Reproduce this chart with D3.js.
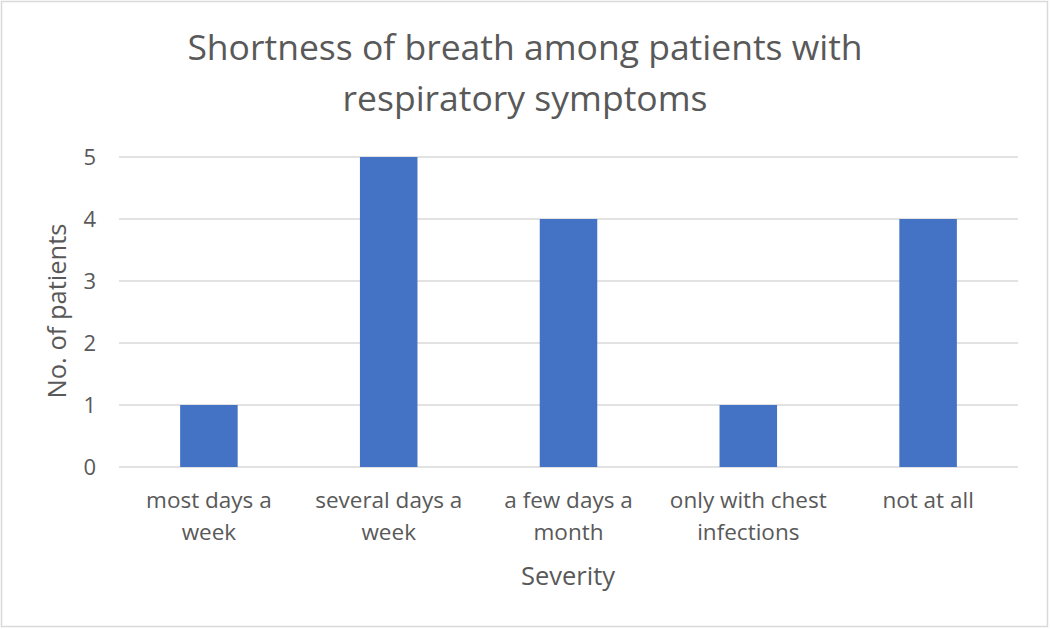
<!DOCTYPE html>
<html><head><meta charset="utf-8">
<script src="https://cdn.jsdelivr.net/npm/d3@7"></script>
<style>body{margin:0;background:#fff}svg{display:block}text{font-family:"Open Sans",sans-serif;fill:#595959}</style>
</head><body><svg id="c" width="1050" height="629"></svg>
<script>
const categories = [["most days a","week"],["several days a","week"],["a few days a","month"],["only with chest","infections"],["not at all"]];
const values = [1,5,4,1,4];
const yTicks = [0,1,2,3,4,5];
const titleLines = ["Shortness of breath among patients with","respiratory symptoms"];

(function(){
const svg = d3.select("#c");
svg.append("rect").attr("x",1.5).attr("y",1.5).attr("width",1046).attr("height",625).attr("fill","#fff").attr("stroke","#d9d9d9").attr("stroke-width",1.5);
const pL=119,pR=1018,pT=157,pB=467;
const x = d3.scaleBand().domain(d3.range(categories.length)).range([pL,pR]).paddingInner(0.68).paddingOuter(0.34);
const y = d3.scaleLinear().domain([0,5]).range([pB,pT]);

svg.append("g").selectAll("line").data(yTicks).join("line")
 .attr("x1",pL).attr("x2",pR).attr("y1",d=>y(d)).attr("y2",d=>y(d))
 .attr("stroke","#d9d9d9").attr("stroke-width",1.5);

svg.append("g").selectAll("rect").data(values).join("rect")
 .attr("x",(d,i)=>x(i)).attr("width",x.bandwidth()).attr("y",d=>y(d)).attr("height",d=>y(0)-y(d)).attr("fill","#4472c4");

svg.append("g").selectAll("text").data(yTicks).join("text")
 .attr("x",96).attr("y",d=>y(d)).attr("dy","0.36em").attr("text-anchor","end").attr("font-size",22).text(d=>d);

const xl = svg.append("g").selectAll("text").data(categories).join("text")
 .attr("text-anchor","middle").attr("font-size",22.5)
 .attr("transform",(d,i)=>`translate(${x(i)+x.bandwidth()/2},508)`);
xl.selectAll("tspan").data(d=>d).join("tspan").attr("x",0).attr("dy",(d,j)=>j?32:0).text(d=>d);

svg.append("text").attr("x",568).attr("y",585).attr("text-anchor","middle").attr("font-size",25.5).text("Severity");
svg.append("text").attr("transform","translate(66,311) rotate(-90)").attr("text-anchor","middle").attr("font-size",25.5).text("No. of patients");

svg.append("g").selectAll("text").data(titleLines).join("text")
 .attr("x",525).attr("y",(d,i)=>60+i*51).attr("text-anchor","middle").attr("font-size",35.5).text(d=>d);
})();
</script></body></html>
